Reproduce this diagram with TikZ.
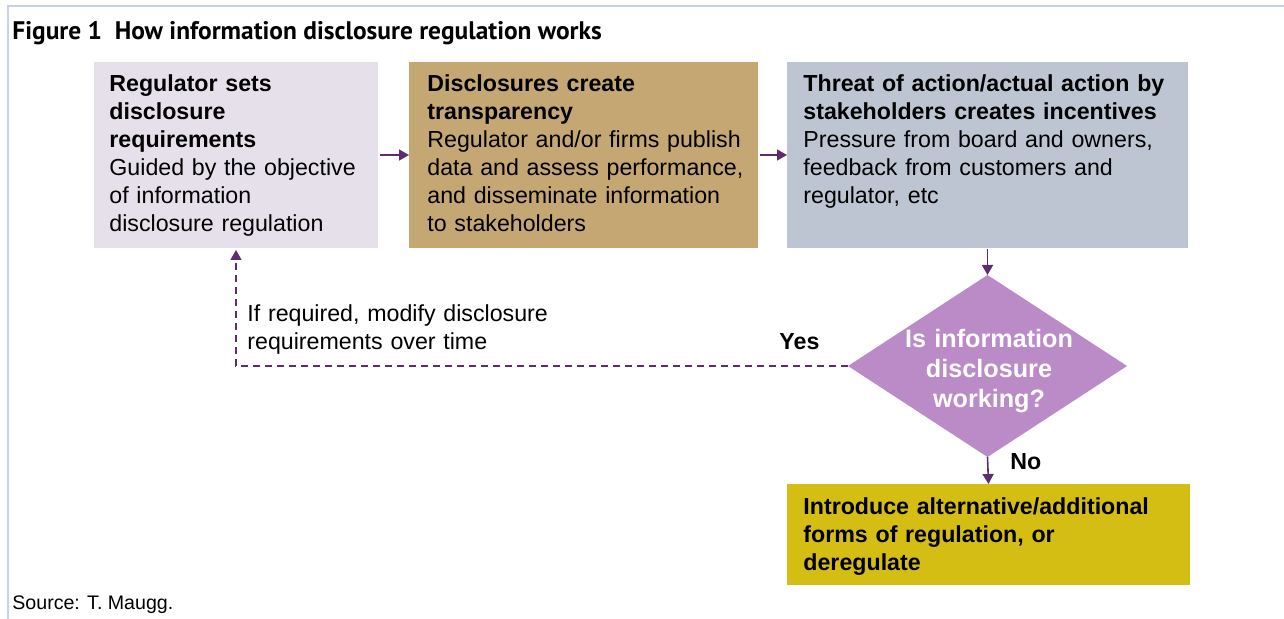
\documentclass[tikz,border=0pt]{standalone}
\usepackage{fontspec}
\setmainfont{Liberation Sans}
\newfontfamily\titlefont{PT Sans}
\usetikzlibrary{shapes.geometric,arrows.meta}
\definecolor{regfill}{HTML}{E5E0EA}
\definecolor{discfill}{HTML}{C4A772}
\definecolor{threatfill}{HTML}{BEC5D2}
\definecolor{altfill}{HTML}{D4BE13}
\definecolor{decfill}{HTML}{BB8BC8}
\definecolor{arrowcol}{HTML}{5F2D6D}
\definecolor{framecol}{HTML}{C8D2E4}
\tikzset{
  stagebox/.style={rectangle,anchor=north west,inner sep=0pt,outer sep=0pt,minimum height=93pt},
  stagetext/.style={anchor=base west,inner sep=0pt,text width=#1,align=left,font=\fontsize{11.6}{14}\selectfont},
  flow/.style={arrowcol,line width=0.8pt,-{Triangle[length=5pt,width=5.5pt]}},
}
\begin{document}
\begin{tikzpicture}[x=0.5pt,y=-0.5pt]
  \useasboundingbox (0,0) rectangle (1284,619);
  \draw[framecol,line width=1pt] (8,619) -- (8,6) -- (1284,6);
  \node[anchor=base west,inner sep=0pt,font=\titlefont\bfseries\fontsize{12.7}{15}\selectfont] (title) at (12,40) {Figure 1\enspace How information disclosure regulation works};
  % the three stages
  \node[stagebox,fill=regfill,minimum width=142pt] (reg) at (94,62) {};
  \node[stagebox,fill=discfill,minimum width=174.5pt] (disc) at (409,62) {};
  \node[stagebox,fill=threatfill,minimum width=200.5pt] (threat) at (787,62) {};
  \node[stagetext=140pt] (regtxt) at (109,92) {\textbf{Regulator sets\\disclosure\\requirements}\\Guided by the objective\\of information\\disclosure regulation};
  \node[stagetext=170pt] (disctxt) at (427,92) {\textbf{Disclosures create\\transparency}\\Regulator and/or firms publish\\data and assess performance,\\and disseminate information\\to stakeholders};
  \node[stagetext=195pt] (threattxt) at (803,92) {\textbf{Threat of action/actual action by\\stakeholders creates incentives}\\Pressure from board and owners,\\feedback from customers and\\regulator, etc};
  % decision
  \node[diamond,fill=decfill,minimum width=139.5pt,minimum height=91pt,inner sep=0pt,outer sep=0pt] (dec) at (987.5,366) {};
  \node[anchor=base,inner sep=0pt,text width=100pt,align=center,text=white,font=\bfseries\fontsize{12.6}{15}\selectfont] (dectxt) at (989,348) {Is information\\disclosure\\working?};
  \node[stagebox,fill=altfill,minimum width=201.5pt,minimum height=50.5pt] (alt) at (787,484) {};
  \node[stagetext=195pt] (alttxt) at (803,515) {\textbf{Introduce alternative/additional\\forms of regulation, or\\deregulate}};
  % labels
  \node[stagetext=160pt] (modtxt) at (247,322) {If required, modify disclosure\\requirements over time};
  \node[anchor=base west,inner sep=0pt,font=\bfseries\fontsize{11.6}{14}\selectfont] (yes) at (779,350) {Yes};
  \node[anchor=base west,inner sep=0pt,font=\bfseries\fontsize{11.6}{14}\selectfont] (no) at (1010,470) {No};
  \node[anchor=base west,inner sep=0pt,font=\fontsize{9.8}{11}\selectfont] (src) at (12,609) {Source: T. Maugg.};
  % connectors
  \draw[flow] ([xshift=1pt]reg.east) -- (disc.west);
  \draw[flow] ([xshift=1pt]disc.east) -- (threat.west);
  \draw[flow] ([yshift=-0.5pt]threat.south) -- (dec.north);
  \draw[flow] (dec.south) -- (alt.north);
  \draw[flow,line width=0.6pt,dash pattern=on 3.5pt off 2.5pt] (dec.west) -| ([yshift=-1pt]reg.south);
\end{tikzpicture}
\end{document}
